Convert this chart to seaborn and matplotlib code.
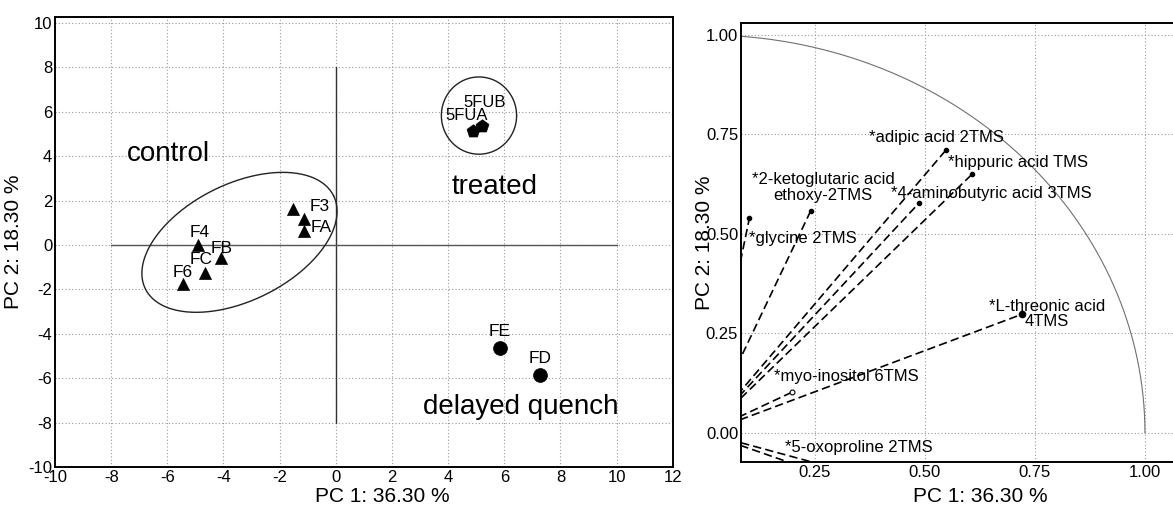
import numpy as np
import pandas as pd
import matplotlib
matplotlib.use("Agg")
import matplotlib.pyplot as plt
import seaborn as sns

# ---------------- data: score plot ----------------
ctrl_names = ["", "F3", "FA", "F4", "FB", "FC", "F6"]
ctrl_pc1 = [-1.54, -1.13, -1.13, -4.91, -4.09, -4.66, -5.45]
ctrl_pc2 = [1.62, 1.17, 0.63, 0.00, -0.60, -1.26, -1.76]

trt_names = ["5FUA", "5FUB"]
trt_pc1 = [4.87, 5.20]
trt_pc2 = [5.15, 5.35]

dq_names = ["FE", "FD"]
dq_pc1 = [5.84, 7.28]
dq_pc2 = [-4.64, -5.87]

group_text = ["control", "treated", "delayed quench"]
group_text_xy = [(-5.97, 4.1), (5.64, 2.6), (6.58, -7.31)]

score_ticks_x = [-10, -8, -6, -4, -2, 0, 2, 4, 6, 8, 10, 12]
score_ticks_y = [-10, -8, -6, -4, -2, 0, 2, 4, 6, 8, 10]

# ---------------- data: loading plot ----------------
load_names = ["*glycine 2TMS", "*2-ketoglutaric acid\nethoxy-2TMS", "*adipic acid 2TMS",
              "*hippuric acid TMS", "*4-aminobutyric acid 3TMS", "*L-threonic acid\n4TMS",
              "*myo-inositol 6TMS", "*5-oxoproline 2TMS", ""]
load_pc1 = [0.101, 0.240, 0.548, 0.608, 0.486, 0.720, 0.197, 0.45, 0.36]
load_pc2 = [0.539, 0.557, 0.711, 0.651, 0.577, 0.298, 0.102, -0.135, -0.139]
load_text_xy = [(0.223, 0.489), (0.269, 0.617), (0.527, 0.743), (0.712, 0.680),
                (0.651, 0.602), (0.777, 0.299), (0.322, 0.141), (0.35, -0.036), (0.0, 0.0)]
load_ticks = [0.00, 0.25, 0.50, 0.75, 1.00]

xlabel = "PC 1: 36.30 %"
ylabel = "PC 2: 18.30 %"

# ---------------- style ----------------
sns.set_theme(style="white")
plt.rcParams["font.family"] = ["Liberation Sans", "DejaVu Sans"]
plt.rcParams["axes.unicode_minus"] = False
for k in ["text.color", "axes.labelcolor", "xtick.color", "ytick.color"]:
    plt.rcParams[k] = "black"

fig = plt.figure(figsize=(11.73, 5.09), dpi=100)
ax1 = fig.add_axes([0.0469, 0.0825, 0.5266, 0.8841])
ax2 = fig.add_axes([0.6317, 0.0923, 0.3819, 0.8625])

grid_kw = dict(color="#9a9a9a", linestyle=(0, (1, 2)), linewidth=0.8)

# ---- left panel ----
ax1.set_xlim(-10, 12)
ax1.set_ylim(-10, 10.27)
ax1.set_xticks(score_ticks_x)
ax1.set_yticks(score_ticks_y)
ax1.grid(True, **grid_kw)
ax1.set_axisbelow(True)

ax1.plot([0, 0], [-8, 8], color="#333333", lw=1.0)
ax1.plot([-8, 10], [0, 0], color="#555555", lw=1.0)

df_c = pd.DataFrame({"x": ctrl_pc1, "y": ctrl_pc2})
df_t = pd.DataFrame({"x": trt_pc1, "y": trt_pc2})
df_d = pd.DataFrame({"x": dq_pc1, "y": dq_pc2})
sns.scatterplot(data=df_c, x="x", y="y", marker="^", s=75, color="black", edgecolor="black", linewidth=0.5, ax=ax1, zorder=3)
sns.scatterplot(data=df_t, x="x", y="y", marker="p", s=95, color="black", edgecolor="black", linewidth=0.5, ax=ax1, zorder=3)
sns.scatterplot(data=df_d, x="x", y="y", marker="o", s=100, color="black", edgecolor="black", linewidth=0.5, ax=ax1, zorder=3)

ctrl_off = [(0, 0), (16, 13), (17, 4), (2, 13), (1, 10), (-4, 13), (0, 12)]
for n, x, y, off in zip(ctrl_names, ctrl_pc1, ctrl_pc2, ctrl_off):
    if n:
        ax1.annotate(n, (x, y), xytext=off, textcoords="offset pixels",
                     ha="center", va="center", fontsize=12.5)
trt_off = [(-6, 15), (3, 24)]
for n, x, y, off in zip(trt_names, trt_pc1, trt_pc2, trt_off):
    ax1.annotate(n, (x, y), xytext=off, textcoords="offset pixels",
                 ha="center", va="center", fontsize=12)
for n, x, y in zip(dq_names, dq_pc1, dq_pc2):
    ax1.annotate(n, (x, y), xytext=(0, 17), textcoords="offset pixels",
                 ha="center", va="center", fontsize=12.5)

for t, (x, y) in zip(group_text, group_text_xy):
    ax1.text(x, y, t, ha="center", va="center", fontsize=20)

# group ellipses
tt = np.linspace(0, 2 * np.pi, 300)
ctrl_c = (-3.43, 0.12)
M = np.array([[3.352, -0.920], [2.096, 2.354]])
ex = ctrl_c[0] + M[0, 0] * np.cos(tt) + M[0, 1] * np.sin(tt)
ey = ctrl_c[1] + M[1, 0] * np.cos(tt) + M[1, 1] * np.sin(tt)
ax1.plot(ex, ey, color="#222222", lw=1.0)
trt_c = (5.1, 5.83)
ax1.plot(trt_c[0] + 1.34 * np.cos(tt), trt_c[1] + 1.74 * np.sin(tt), color="#222222", lw=1.0)

ax1.set_xlabel(xlabel, fontsize=15)
ax1.set_ylabel(ylabel, fontsize=15, labelpad=4)
ax1.xaxis.set_label_coords(0.53, -0.044)
ax1.tick_params(axis="both", labelsize=12, length=0, pad=2)
for s in ax1.spines.values():
    s.set_visible(True)
    s.set_color("black")
    s.set_linewidth(1.4)

# ---- right panel ----
ax2.set_xlim(0.082, 1.1)
ax2.set_ylim(-0.073, 1.03)
ax2.set_xticks(load_ticks[1:])
ax2.set_yticks(load_ticks)
ax2.set_xticklabels([f"{v:.2f}" for v in load_ticks[1:]])
ax2.set_yticklabels([f"{v:.2f}" for v in load_ticks])
ax2.grid(True, **grid_kw)
ax2.set_axisbelow(True)

th = np.linspace(0, np.pi, 400)
ax2.plot(np.cos(th), np.sin(th), color="#707070", lw=0.8)

for i, (n, x, y) in enumerate(zip(load_names, load_pc1, load_pc2)):
    ax2.plot([0, x], [0, y], color="black", lw=1.2, dashes=(5, 2.5))
    if "myo" in n:
        ax2.plot([x], [y], marker="o", ms=3.5, mfc="white", mec="black", mew=0.8, ls="none")
    elif "threonic" in n:
        ax2.plot([x], [y], marker="o", ms=4.5, color="black", ls="none")
    elif n:
        ax2.plot([x], [y], marker="o", ms=3, color="black", ls="none")
for n, (x, y) in zip(load_names, load_text_xy):
    if n:
        ax2.text(x, y, n, ha="center", va="center", fontsize=12, multialignment="center",
                 linespacing=1.05)

ax2.set_xlabel(xlabel, fontsize=15)
ax2.set_ylabel(ylabel, fontsize=15, labelpad=-6)
ax2.xaxis.set_label_coords(0.535, -0.057)
ax2.tick_params(axis="both", labelsize=12, length=0, pad=2)
for s in ax2.spines.values():
    s.set_visible(True)
    s.set_color("black")
    s.set_linewidth(1.4)

fig.savefig("out.png", dpi=100)
